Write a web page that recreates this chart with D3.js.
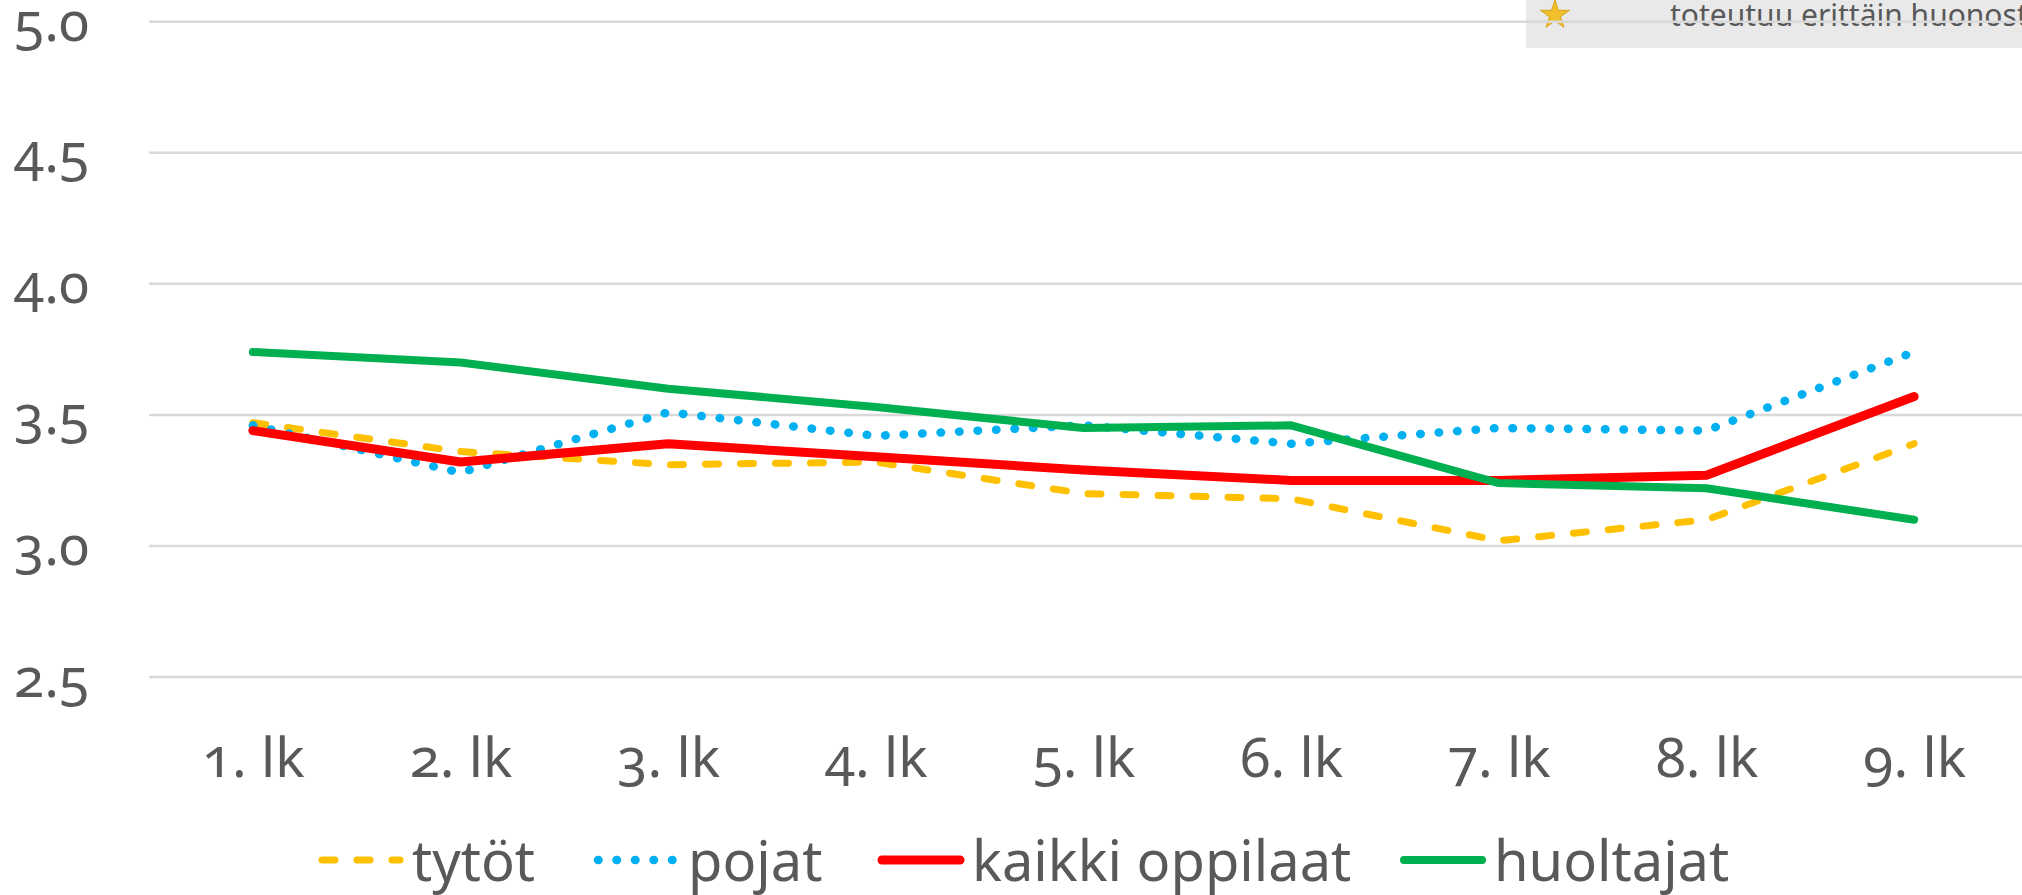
<!DOCTYPE html>
<html>
<head>
<meta charset="utf-8">
<script src="https://cdn.jsdelivr.net/npm/d3@7"></script>
<style>
  body { margin: 0; background: #fff; }
  text { font-family: "Noto Sans", sans-serif; fill: #595959; font-variant-numeric: oldstyle-nums; }
</style>
</head>
<body>
<script>
// grades on the x axis
const grades = ["1. lk", "2. lk", "3. lk", "4. lk", "5. lk", "6. lk", "7. lk", "8. lk", "9. lk"]
const yTicks = [2.5, 3.0, 3.5, 4.0, 4.5, 5.0]

// averages per group
const tytot = [3.47, 3.36, 3.31, 3.32, 3.20, 3.18, 3.02, 3.10, 3.39]
const pojat = [3.46, 3.28, 3.51, 3.42, 3.46, 3.39, 3.45, 3.44, 3.74]
const kaikki = [3.44, 3.32, 3.39, 3.34, 3.29, 3.25, 3.25, 3.27, 3.57]
const huoltajat = [3.74, 3.70, 3.60, 3.53, 3.45, 3.46, 3.24, 3.22, 3.10]

const legendNames = ["tytöt", "pojat", "kaikki oppilaat", "huoltajat"]
const noteText = "toteutuu erittäin huonosti"

const series = [
  { name: legendNames[0], values: tytot, color: "#FFC000", width: 7, dash: "13 22" },
  { name: legendNames[1], values: pojat, color: "#00B0F0", width: 8.5, dash: "0.5 18" },
  { name: legendNames[2], values: kaikki, color: "#FF0000", width: 9, dash: null },
  { name: legendNames[3], values: huoltajat, color: "#00B050", width: 8, dash: null },
]

const W = 2022, H = 895
const svg = d3.select("body").append("svg").attr("width", W).attr("height", H)

const x = d3.scalePoint().domain(grades).range([149, 2018]).padding(0.5)
const y = d3.scaleLinear().domain([2.5, 5]).range([677, 21.7])

// grey box in the top right corner (a leftover from the original slide, text runs off the edge)
svg.append("rect")
  .attr("x", 1526).attr("y", 0).attr("width", W - 1526).attr("height", 48)
  .attr("fill", "#e9e9e9")
svg.append("path")
  .attr("d", d3.symbol(d3.symbolStar, 260)())
  .attr("transform", "translate(1555,15)")
  .attr("fill", "#f1bf2c").attr("stroke", "#d9a21a").attr("stroke-width", 1)
svg.append("text")
  .attr("x", 1670).attr("y", 26)
  .style("font-size", "30px")
  .text(noteText)

// gridlines
svg.append("g")
  .selectAll("line")
  .data(yTicks)
  .join("line")
  .attr("x1", 149).attr("x2", W)
  .attr("y1", d => y(d)).attr("y2", d => y(d))
  .attr("stroke", "#d9d9d9").attr("stroke-width", 2.5)

// y axis labels
const yAxis = svg.append("g")
  .attr("transform", "translate(89,0)")
  .call(d3.axisLeft(y).tickValues(yTicks).tickFormat(d3.format(".1f")).tickSize(0).tickPadding(0))
yAxis.select(".domain").remove()
yAxis.selectAll("text")
  .attr("dy", null).attr("y", 19)
  .attr("fill", null)
  .style("font-size", "55px")
  .style("font-family", null)

// x axis labels
const xAxis = svg.append("g")
  .attr("transform", "translate(0,777)")
  .call(d3.axisBottom(x).tickSize(0).tickPadding(0))
xAxis.select(".domain").remove()
xAxis.selectAll("text")
  .attr("dy", null).attr("y", 0)
  .attr("fill", null)
  .style("font-size", "55px")
  .style("font-family", null)

// the lines
const line = d3.line()
  .x((d, i) => x(grades[i]))
  .y(d => y(d))

svg.append("g")
  .selectAll("path")
  .data(series)
  .join("path")
  .attr("d", d => line(d.values))
  .attr("fill", "none")
  .attr("stroke", d => d.color)
  .attr("stroke-width", d => d.width)
  .attr("stroke-dasharray", d => d.dash)
  .attr("stroke-linecap", "round")
  .attr("stroke-linejoin", "round")

// legend
const legendX = [322, 598, 882, 1404]
const legend = svg.append("g")
  .selectAll("g")
  .data(series)
  .join("g")
  .attr("transform", (d, i) => `translate(${legendX[i]},860)`)
legend.append("line")
  .attr("x1", 0).attr("x2", 78)
  .attr("stroke", d => d.color)
  .attr("stroke-width", d => d.width)
  .attr("stroke-dasharray", d => d.dash)
  .attr("stroke-linecap", "round")
legend.append("text")
  .attr("x", 90).attr("y", 21)
  .style("font-size", "56px")
  .text(d => d.name)
</script>
</body>
</html>
